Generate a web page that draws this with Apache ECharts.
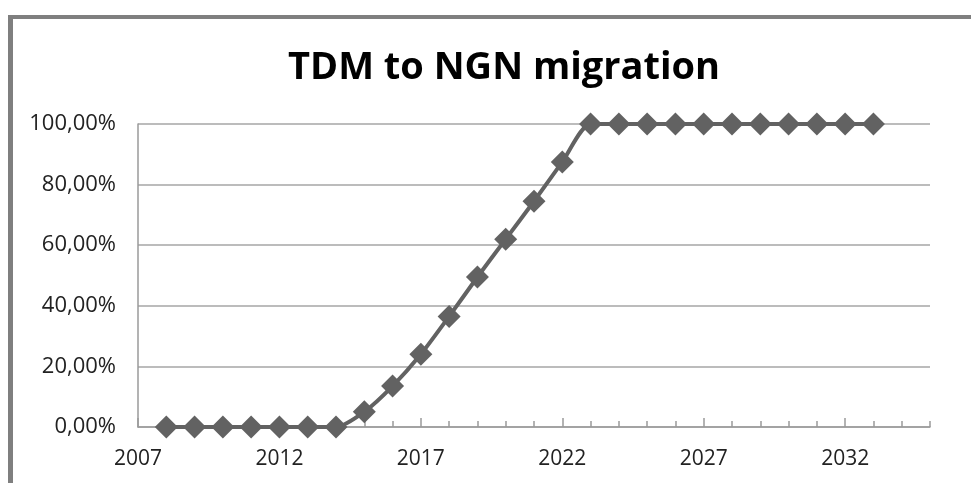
<!DOCTYPE html>
<html>
<head>
<meta charset="utf-8">
<script src="https://cdn.jsdelivr.net/npm/echarts@6/dist/echarts.min.js"></script>
<style>
html,body{margin:0;padding:0;background:#fff;}
#c{width:971px;height:483px;}
</style>
</head>
<body>
<div id="c"></div>
<script>
var years = [2008,2009,2010,2011,2012,2013,2014,2015,2016,2017,2018,2019,2020,2021,2022,2023,2024,2025,2026,2027,2028,2029,2030,2031,2032,2033];
var migration = [0,0,0,0,0,0,0,5,13.5,24,36.5,49.5,62,74.5,87.5,100,100,100,100,100,100,100,100,100,100,100];
var xLabelYears = [2007,2012,2017,2022,2027,2032];
var yTicks = [0,20,40,60,80,100];

var chart = echarts.init(document.getElementById('c'));
var font = '"Open Sans", "Liberation Sans", sans-serif';
chart.setOption({
  animation: false,
  title: {
    text: 'TDM to NGN migration',
    left: 283,
    top: 44,
    textStyle: {fontFamily: font, fontWeight: 'bold', fontSize: 38, color: '#000'}
  },
  graphic: [
    {type: 'rect', shape: {x: 8, y: 15, width: 963, height: 4}, style: {fill: '#7f7f7f'}},
    {type: 'rect', shape: {x: 8, y: 15, width: 5, height: 468}, style: {fill: '#7f7f7f'}}
  ],
  grid: {left: 138, right: 41, top: 124, bottom: 56, containLabel: false},
  xAxis: [{
    type: 'value', min: 2007, max: 2035, interval: 1,
    axisLine: {show: true, lineStyle: {color: '#9a9a9a', width: 1.5}},
    axisTick: {show: true, inside: true, length: 6, lineStyle: {color: '#9a9a9a', width: 1.5}},
    axisLabel: {customValues: xLabelYears, margin: 22, fontFamily: font, fontSize: 21, color: '#222',
      formatter: function (v) { return String(v); }},
    splitLine: {show: false}
  }, {
    type: 'value', min: 2007, max: 2035, position: 'bottom',
    axisLine: {show: false},
    axisTick: {show: true, inside: true, length: 9, customValues: xLabelYears, lineStyle: {color: '#9a9a9a', width: 1.5}},
    axisLabel: {show: false},
    splitLine: {show: false}
  }],
  yAxis: {
    type: 'value', min: 0, max: 100, interval: 20,
    axisLine: {show: true, lineStyle: {color: '#9a9a9a', width: 1.5}},
    axisTick: {show: false},
    axisLabel: {
      margin: 22, fontFamily: font, fontSize: 22, color: '#222',
      formatter: function (v) { return v.toFixed(2).replace('.', ',') + '%'; }
    },
    splitLine: {show: true, lineStyle: {color: '#a6a6a6', width: 1.5}}
  },
  series: [{
    type: 'line',
    xAxisIndex: 0,
    data: years.map(function (y, i) { return [y, migration[i]]; }),
    smooth: 0.25,
    symbol: 'diamond',
    symbolSize: 23,
    lineStyle: {color: '#626262', width: 4},
    itemStyle: {color: '#626262'}
  }]
});
</script>
</body>
</html>
